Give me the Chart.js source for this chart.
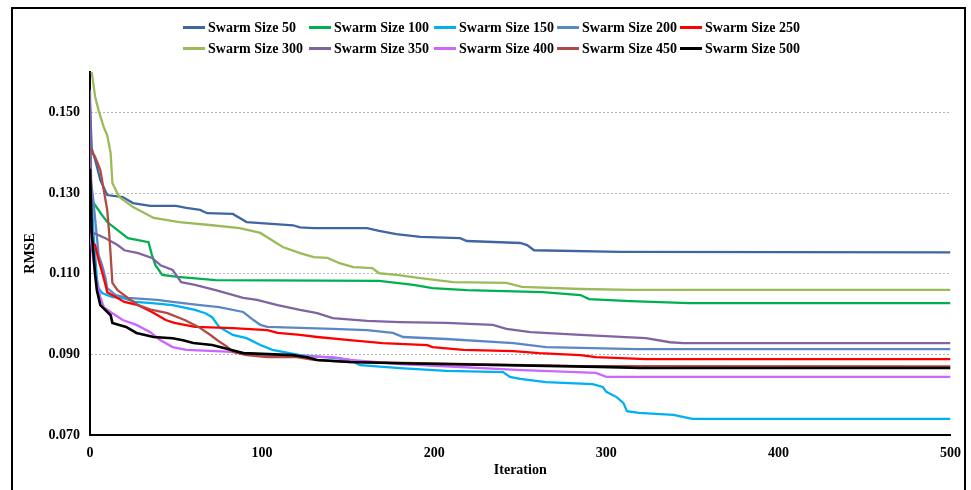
<!DOCTYPE html>
<html>
<head>
<meta charset="utf-8">
<script src="https://cdn.jsdelivr.net/npm/chart.js@4.4.0/dist/chart.umd.min.js"></script>
<style>
    html, body { margin: 0; padding: 0; background: #fff; }
    #wrap { position: relative; width: 971px; height: 490px; overflow: hidden; }
    #frame {
        position: absolute; left: 11px; top: 7px; width: 955px; height: 500px;
        border: 2px solid #000; box-sizing: border-box;
    }
    #chart { position: absolute; left: 0; top: 0; }
    #legend {
        position: absolute; left: 183px; top: 17px;
        font: bold 14px "Liberation Serif", "Times New Roman", serif;
        color: #000;
    }
    .legend-row { display: flex; height: 21px; align-items: center; }
    .legend-item { display: flex; align-items: center; white-space: nowrap; }
    .legend-line { display: inline-block; width: 22px; height: 3px; margin-right: 3px; }
</style>
</head>
<body>
<div id="wrap">
    <div id="frame"></div>
    <canvas id="chart" width="971" height="490"></canvas>
    <div id="legend"></div>
</div>
<script>
// Données : [itération, RMSE]
const seriesNames = ['Swarm Size 50', 'Swarm Size 100', 'Swarm Size 150', 'Swarm Size 200', 'Swarm Size 250',
                     'Swarm Size 300', 'Swarm Size 350', 'Swarm Size 400', 'Swarm Size 450', 'Swarm Size 500'];
const seriesColors = ['#3f65a3', '#00b050', '#00b0f0', '#5b87c5', '#ff0000',
                      '#9bbb59', '#8064a2', '#cc66ff', '#b14a43', '#000000'];

const s50 = [[0,0.152],[1,0.141],[3,0.1382],[6,0.1332],[10,0.1295],[19,0.1290],[25,0.1275],[35,0.1268],[50,0.1268],
    [56,0.1263],[64,0.1258],[68,0.1250],[83,0.1248],[91,0.1228],[118,0.1220],[122,0.1215],[130,0.1213],[161,0.1213],
    [168,0.1206],[178,0.1198],[192,0.1191],[215,0.1188],[219,0.1181],[250,0.1176],[254,0.1171],[258,0.1158],
    [308,0.1154],[500,0.1153]];
const s100 = [[0,0.1285],[1,0.1282],[3,0.1270],[7,0.1245],[10,0.1228],[16,0.1208],[22,0.1188],[34,0.1178],[36,0.1146],
    [38,0.1121],[42,0.1097],[51,0.1092],[73,0.1084],[168,0.1082],[188,0.1072],[199,0.1064],[219,0.1059],[263,0.1054],
    [285,0.1047],[290,0.1037],[314,0.1032],[348,0.1027],[500,0.1027]];
const s150 = [[0,0.1374],[2,0.120],[4,0.1089],[5,0.1064],[7,0.1052],[13,0.1042],[19,0.1040],[26,0.1030],[36,0.1027],
    [48,0.1022],[61,0.1010],[67,0.1002],[71,0.0992],[75,0.0968],[83,0.0948],[91,0.0940],[99,0.0923],[106,0.0911],
    [122,0.0898],[141,0.0891],[151,0.0886],[157,0.0873],[180,0.0866],[207,0.0859],[240,0.0856],[244,0.0844],
    [250,0.0839],[265,0.0831],[292,0.0826],[298,0.0819],[300,0.0807],[306,0.0794],[310,0.0779],[312,0.0759],
    [319,0.0755],[339,0.0750],[350,0.0740],[500,0.0740]];
const s200 = [[0,0.135],[2,0.128],[5,0.1146],[7,0.1121],[9,0.1089],[10,0.1064],[15,0.1047],[22,0.1040],[39,0.1035],
    [48,0.1030],[64,0.1022],[75,0.1017],[89,0.1005],[95,0.0985],[99,0.0973],[103,0.0968],[141,0.0963],[161,0.0960],
    [176,0.0953],[182,0.0943],[207,0.0938],[246,0.0928],[265,0.0918],[318,0.0913],[500,0.0913]];
const s250 = [[0,0.140],[1,0.1178],[3,0.1171],[5,0.1134],[7,0.1104],[9,0.1072],[10,0.1054],[15,0.1042],[20,0.1030],
    [28,0.1022],[36,0.1005],[44,0.0985],[49,0.0978],[61,0.0968],[83,0.0965],[103,0.0960],[109,0.0953],[122,0.0948],
    [132,0.0943],[151,0.0935],[170,0.0928],[196,0.0923],[199,0.0918],[217,0.0911],[246,0.0908],[261,0.0903],
    [285,0.0898],[294,0.0893],[323,0.0888],[500,0.0888]];
const s300 = [[0,0.162],[1,0.160],[3,0.1538],[5,0.1505],[8,0.1463],[10,0.1443],[12,0.1399],[13,0.1325],[17,0.1290],
    [25,0.1265],[37,0.1238],[52,0.1228],[71,0.1220],[87,0.1213],[99,0.1201],[112,0.1166],[122,0.1151],[130,0.1141],
    [138,0.1139],[145,0.1126],[153,0.1116],[164,0.1114],[168,0.1101],[178,0.1097],[192,0.1089],[211,0.1079],
    [242,0.1077],[251,0.1067],[285,0.1062],[315,0.1060],[500,0.1060]];
const s350 = [[0,0.1555],[1,0.1203],[9,0.1188],[16,0.1171],[20,0.1158],[28,0.1151],[36,0.1139],[41,0.1121],[48,0.1109],
    [53,0.1079],[61,0.1072],[73,0.1059],[89,0.1040],[97,0.1035],[109,0.1022],[122,0.1010],[132,0.1002],[141,0.0990],
    [161,0.0983],[180,0.0980],[207,0.0978],[234,0.0973],[242,0.0963],[256,0.0955],[285,0.0948],[323,0.0940],
    [337,0.0930],[345,0.0928],[500,0.0928]];
const s400 = [[0,0.120],[3,0.1097],[6,0.1042],[8,0.1017],[13,0.1002],[19,0.0985],[27,0.0973],[35,0.0955],[41,0.0935],
    [48,0.0918],[56,0.0911],[83,0.0906],[103,0.0898],[141,0.0893],[151,0.0886],[180,0.0876],[251,0.0861],
    [294,0.0854],[300,0.0844],[500,0.0844]];
const s450 = [[0,0.1411],[3,0.1389],[6,0.1357],[8,0.1307],[10,0.1258],[11,0.1208],[12,0.1146],[13,0.1077],[16,0.1059],
    [22,0.1040],[28,0.1022],[36,0.1010],[45,0.1002],[55,0.0985],[63,0.0968],[70,0.0948],[74,0.0935],[80,0.0918],
    [83,0.0906],[91,0.0898],[103,0.0893],[120,0.0893],[130,0.0886],[151,0.0881],[285,0.0871],[500,0.0870]];
const s500 = [[0,0.136],[1,0.120],[3,0.1097],[4,0.1059],[6,0.1022],[12,0.0997],[13,0.0978],[21,0.0968],[27,0.0953],
    [37,0.0943],[48,0.0940],[54,0.0935],[60,0.0928],[71,0.0923],[80,0.0913],[89,0.0903],[118,0.0898],[126,0.0893],
    [132,0.0886],[151,0.0881],[180,0.0878],[296,0.0869],[320,0.0866],[500,0.0866]];

const seriesData = [s50, s100, s150, s200, s250, s300, s350, s400, s450, s500];

const xTicks = [0, 100, 200, 300, 400, 500];
const yTicks = [0.07, 0.09, 0.11, 0.13, 0.15];

document.addEventListener('DOMContentLoaded', function() {
    const chart = initChart();
    buildLegend(chart);
});

function initChart() {
    const ctx = document.getElementById('chart').getContext('2d');
    const font = { family: '"Liberation Serif", "Times New Roman", serif', size: 14, weight: 'bold' };

    const datasets = seriesData.map(function(points, i) {
        return {
            label: seriesNames[i],
            data: points.map(p => ({ x: p[0], y: p[1] })),
            borderColor: seriesColors[i],
            backgroundColor: seriesColors[i],
            borderWidth: i === 9 ? 2.6 : 2.3,
            pointRadius: 0,
            tension: 0,
            order: seriesData.length - i   // la dernière série est dessinée au-dessus
        };
    });

    return new Chart(ctx, {
        type: 'line',
        data: { datasets: datasets },
        options: {
            responsive: false,
            animation: false,
            layout: { padding: { top: 72, left: 10, right: 20, bottom: 0 } },
            plugins: {
                legend: { display: false },
                tooltip: { enabled: false }
            },
            scales: {
                x: {
                    type: 'linear',
                    min: 0,
                    max: 500,
                    afterBuildTicks: function(axis) {
                        axis.ticks = xTicks.map(v => ({ value: v }));
                    },
                    afterFit: function(axis) { axis.height = 55; },
                    grid: { display: false, drawTicks: false },
                    border: { display: true, color: '#000', width: 2 },
                    ticks: { color: '#000', font: font, padding: 10, maxRotation: 0 },
                    title: {
                        display: true,
                        text: 'Iteration',
                        color: '#000',
                        font: font,
                        padding: { top: 0, bottom: 11 }
                    }
                },
                y: {
                    type: 'linear',
                    min: 0.07,
                    max: 0.16,
                    afterBuildTicks: function(axis) {
                        axis.ticks = yTicks.map(v => ({ value: v }));
                    },
                    afterFit: function(axis) { axis.width = 80; },
                    grid: { color: '#b5b5b5', lineWidth: 1, drawTicks: false },
                    border: { display: true, color: '#000', width: 2, dash: [2, 2] },
                    ticks: {
                        color: '#000',
                        font: font,
                        padding: 10,
                        callback: function(value) { return value.toFixed(3); }
                    },
                    title: {
                        display: true,
                        text: 'RMSE',
                        color: '#000',
                        font: font,
                        padding: { top: 12, bottom: 0 }
                    }
                }
            }
        }
    });
}

/**
 * Légende HTML sur deux lignes de cinq éléments
 */
function buildLegend(chart) {
    const legend = document.getElementById('legend');
    const colWidths = [126, 125, 123, 123, 125];
    const perRow = 5;

    for (let r = 0; r < chart.data.datasets.length / perRow; r++) {
        const row = document.createElement('div');
        row.className = 'legend-row';
        for (let c = 0; c < perRow; c++) {
            const ds = chart.data.datasets[r * perRow + c];
            const item = document.createElement('div');
            item.className = 'legend-item';
            item.style.width = colWidths[c] + 'px';
            const line = document.createElement('span');
            line.className = 'legend-line';
            line.style.background = ds.borderColor;
            const label = document.createElement('span');
            label.textContent = ds.label;
            item.appendChild(line);
            item.appendChild(label);
            row.appendChild(item);
        }
        legend.appendChild(row);
    }
}
</script>
</body>
</html>
